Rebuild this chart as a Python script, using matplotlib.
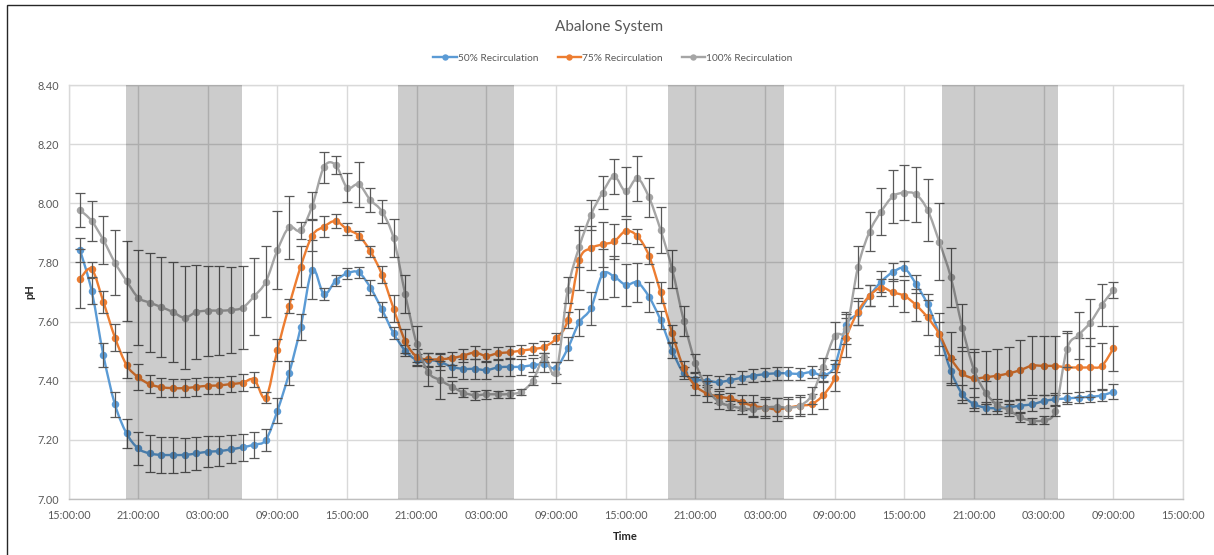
import numpy as np
import matplotlib
matplotlib.use("Agg")
import matplotlib.pyplot as plt
from matplotlib.path import Path
from matplotlib.patches import PathPatch, Rectangle
from matplotlib.lines import Line2D

plt.rcParams['font.family'] = ['Lato', 'DejaVu Sans']

# ---------------- data ----------------
hours = list(range(1, 91))  # hours after the first 15:00:00

ph_50 = [7.841, 7.703, 7.487, 7.320, 7.222, 7.171, 7.154, 7.149, 7.149, 7.149, 7.154, 7.160,
         7.162, 7.168, 7.175, 7.184, 7.200, 7.299, 7.425, 7.581, 7.775, 7.693, 7.738, 7.763,
         7.766, 7.715, 7.641, 7.560, 7.502, 7.470, 7.470, 7.464, 7.447, 7.440, 7.440, 7.436,
         7.445, 7.447, 7.447, 7.453, 7.455, 7.444, 7.509, 7.598, 7.645, 7.760, 7.752,
         7.724, 7.732, 7.684, 7.605, 7.502, 7.425, 7.405, 7.400, 7.395, 7.402, 7.410, 7.417,
         7.422, 7.425, 7.425, 7.423, 7.429, 7.419, 7.450, 7.589, 7.628, 7.687, 7.735,
         7.767, 7.780, 7.727, 7.658, 7.557, 7.433, 7.354, 7.321, 7.309, 7.307, 7.310, 7.316,
         7.320, 7.331, 7.337, 7.340, 7.343, 7.346, 7.350, 7.363]
err_50 = [0.040, 0.045, 0.042, 0.043, 0.050, 0.056, 0.062, 0.062, 0.060, 0.057, 0.057, 0.052,
          0.050, 0.047, 0.045, 0.044, 0.038, 0.043, 0.041, 0.043, 0.100, 0.019, 0.018, 0.018,
          0.020, 0.024, 0.024, 0.020, 0.020, 0.020, 0.025, 0.028, 0.033, 0.035, 0.033, 0.030,
          0.030, 0.030, 0.028, 0.025, 0.025, 0.020, 0.038, 0.046, 0.055, 0.085, 0.070,
          0.070, 0.065, 0.050, 0.030, 0.025, 0.020, 0.020, 0.020, 0.022, 0.022, 0.022, 0.022,
          0.022, 0.022, 0.022, 0.020, 0.020, 0.020, 0.020, 0.045, 0.040, 0.035, 0.035,
          0.030, 0.025, 0.030, 0.035, 0.040, 0.042, 0.030, 0.025, 0.020, 0.020, 0.020, 0.022,
          0.022, 0.022, 0.022, 0.020, 0.018, 0.018, 0.018, 0.025]

ph_75 = [7.745, 7.777, 7.667, 7.546, 7.453, 7.412, 7.388, 7.378, 7.375, 7.375, 7.379, 7.383,
         7.384, 7.389, 7.393, 7.404, 7.343, 7.505, 7.653, 7.786, 7.891, 7.921, 7.940, 7.912,
         7.891, 7.838, 7.759, 7.644, 7.534, 7.481, 7.472, 7.473, 7.476, 7.485, 7.495, 7.484,
         7.493, 7.496, 7.502, 7.507, 7.515, 7.543, 7.605, 7.808, 7.848, 7.861, 7.871,
         7.906, 7.889, 7.823, 7.699, 7.560, 7.442, 7.383, 7.357, 7.346, 7.340, 7.327, 7.315,
         7.309, 7.303, 7.309, 7.316, 7.321, 7.351, 7.410, 7.546, 7.634, 7.687, 7.715,
         7.699, 7.687, 7.656, 7.614, 7.558, 7.476, 7.425, 7.408, 7.412, 7.417, 7.425, 7.436,
         7.451, 7.450, 7.450, 7.445, 7.445, 7.445, 7.450, 7.509]
err_75 = [0.100, 0.025, 0.038, 0.045, 0.043, 0.045, 0.031, 0.032, 0.031, 0.030, 0.029, 0.029,
          0.028, 0.028, 0.029, 0.025, 0.020, 0.037, 0.025, 0.069, 0.053, 0.036, 0.024, 0.020,
          0.014, 0.019, 0.029, 0.047, 0.040, 0.027, 0.022, 0.022, 0.022, 0.022, 0.022, 0.022,
          0.022, 0.022, 0.020, 0.020, 0.020, 0.020, 0.028, 0.100, 0.075, 0.075, 0.060,
          0.040, 0.025, 0.030, 0.035, 0.030, 0.025, 0.030, 0.030, 0.020, 0.020, 0.025, 0.035,
          0.035, 0.040, 0.035, 0.035, 0.035, 0.045, 0.045, 0.065, 0.045, 0.035, 0.030,
          0.045, 0.055, 0.055, 0.060, 0.070, 0.090, 0.090, 0.100, 0.090, 0.090, 0.090, 0.100,
          0.100, 0.100, 0.100, 0.117, 0.100, 0.100, 0.078, 0.077]

ph_100 = [7.977, 7.940, 7.876, 7.799, 7.737, 7.681, 7.664, 7.649, 7.632, 7.613, 7.632, 7.637,
          7.637, 7.639, 7.647, 7.686, 7.735, 7.842, 7.919, 7.908, 7.992, 8.122, 8.130, 8.053,
          8.064, 8.011, 7.972, 7.882, 7.693, 7.524, 7.428, 7.402, 7.380, 7.360, 7.351, 7.354,
          7.354, 7.355, 7.363, 7.400, 7.479, 7.427, 7.707, 7.853, 7.961, 8.036, 8.091,
          8.040, 8.084, 8.020, 7.910, 7.777, 7.602, 7.461, 7.374, 7.329, 7.315, 7.307, 7.303,
          7.309, 7.312, 7.309, 7.316, 7.350, 7.448, 7.552, 7.575, 7.784, 7.904, 7.972,
          8.023, 8.036, 8.030, 7.977, 7.870, 7.750, 7.579, 7.436, 7.360, 7.318, 7.301, 7.276,
          7.265, 7.267, 7.299, 7.507, 7.554, 7.596, 7.656, 7.706]
err_100 = [0.058, 0.068, 0.082, 0.110, 0.134, 0.160, 0.167, 0.170, 0.170, 0.175, 0.160, 0.152,
           0.150, 0.145, 0.140, 0.130, 0.120, 0.133, 0.107, 0.030, 0.045, 0.052, 0.030, 0.050,
           0.075, 0.040, 0.040, 0.065, 0.065, 0.060, 0.045, 0.065, 0.020, 0.015, 0.015, 0.015,
           0.012, 0.012, 0.010, 0.015, 0.015, 0.035, 0.045, 0.070, 0.050, 0.055, 0.058,
           0.083, 0.076, 0.067, 0.078, 0.065, 0.050, 0.030, 0.025, 0.025, 0.015, 0.020, 0.025,
           0.030, 0.030, 0.030, 0.030, 0.030, 0.030, 0.045, 0.050, 0.070, 0.065, 0.080,
           0.090, 0.093, 0.093, 0.105, 0.130, 0.100, 0.080, 0.060, 0.040, 0.020, 0.020, 0.015,
           0.010, 0.012, 0.020, 0.060, 0.080, 0.080, 0.070, 0.027]

series_names = ['50% Recirculation', '75% Recirculation', '100% Recirculation']
series_colors = ['#5B9BD5', '#ED7D31', '#A5A5A5']

tick_hours = [0, 6, 12, 18, 24, 30, 36, 42, 48, 54, 60, 66, 72, 78, 84, 90, 96]
tick_labels = ['15:00:00', '21:00:00', '03:00:00', '09:00:00',
               '15:00:00', '21:00:00', '03:00:00', '09:00:00',
               '15:00:00', '21:00:00', '03:00:00', '09:00:00',
               '15:00:00', '21:00:00', '03:00:00', '09:00:00', '15:00:00']
y_ticks = [7.00, 7.20, 7.40, 7.60, 7.80, 8.00, 8.20, 8.40]

# dark periods (hours after first 15:00:00)
dark_periods = [(4.95, 14.95), (28.36, 38.37), (51.62, 61.6), (75.25, 85.2)]

# ---------------- figure ----------------
fig = plt.figure(figsize=(12.14, 5.55), dpi=100)
ax = fig.add_axes([68.5 / 1214, 1 - 499 / 555, (1183 - 68.5) / 1214, (499 - 85) / 555])

text_col = '#595959'
grid_col = '#D9D9D9'


def smooth_path(x, y):
    pts = np.column_stack([x, y]).astype(float)
    n = len(pts)
    verts = [pts[0]]
    codes = [Path.MOVETO]
    for i in range(n - 1):
        p0 = pts[i - 1] if i > 0 else pts[i]
        p1 = pts[i]
        p2 = pts[i + 1]
        p3 = pts[i + 2] if i + 2 < n else pts[i + 1]
        c1 = p1 + (p2 - p0) / 6.0
        c2 = p2 - (p3 - p1) / 6.0
        verts += [c1, c2, p2]
        codes += [Path.CURVE4] * 3
    return Path(verts, codes)


all_vals = [ph_50, ph_75, ph_100]
all_errs = [err_50, err_75, err_100]
for k, (vals, errs, col) in enumerate(zip(all_vals, all_errs, series_colors)):
    patch = PathPatch(smooth_path(hours, vals), facecolor='none', edgecolor=col,
                      lw=1.7, zorder=3 + k, capstyle='round', joinstyle='round')
    ax.add_patch(patch)
    ax.plot(hours, vals, linestyle='none', marker='o', ms=5.4, color=col,
            markeredgewidth=0, zorder=3.2 + k)
    ax.errorbar(hours, vals, yerr=errs, fmt='none', ecolor='#595959', elinewidth=0.9,
                capsize=3.6, capthick=0.9, zorder=3.4 + k)

# darkness overlay (semi-transparent, on top)
for (s, e) in dark_periods:
    ax.axvspan(s, e, ymin=0, ymax=1, facecolor='black', alpha=0.2, lw=0, zorder=10)

ax.set_xlim(0, 96)
ax.set_ylim(7.0, 8.4)
ax.set_xticks(tick_hours)
ax.set_xticklabels(tick_labels)
ax.set_yticks(y_ticks)
ax.set_yticklabels([f'{v:.2f}' for v in y_ticks])
ax.tick_params(axis='both', length=0, labelsize=7.8, colors=text_col)
ax.tick_params(axis='x', pad=8)
ax.tick_params(axis='y', pad=7)
ax.grid(True, color=grid_col, lw=1.0, zorder=0)
ax.set_axisbelow(True)
for name, sp in ax.spines.items():
    sp.set_color(grid_col)
    sp.set_linewidth(1.0)
ax.spines['bottom'].set_color('#BFBFBF')

ax.set_xlabel('Time', fontsize=8, fontweight='bold', color='#262626', labelpad=7)
ax.set_ylabel('pH', fontsize=8, fontweight='bold', color='#262626', labelpad=1)

fig.text(609 / 1214, 1 - 27 / 555, 'Abalone System', ha='center', va='center',
         fontsize=11, color=text_col)

handles = [Line2D([], [], color=c, lw=1.7, marker='o', ms=4.6, markeredgewidth=0)
           for c in series_colors]
fig.legend(handles, series_names, loc='center', bbox_to_anchor=(613 / 1214, 1 - 58 / 555),
           ncol=3, frameon=False, fontsize=7.3, labelcolor=text_col, handlelength=2.3,
           handletextpad=0.1, columnspacing=1.9)

# outer chart border
fig.patches.append(Rectangle((7 / 1214, -0.01), 1.02, 1.01 - 5 / 555,
                             transform=fig.transFigure, fill=False,
                             edgecolor='#262626', lw=1.0))

fig.savefig('out.png', dpi=100)
